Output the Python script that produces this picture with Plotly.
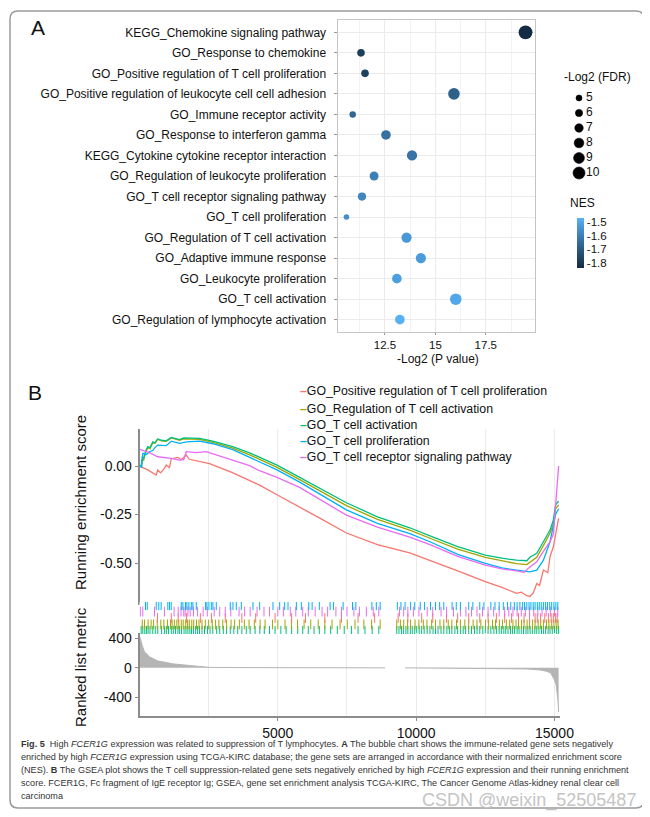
import plotly.graph_objects as go

# screen size of the reference and the browser's default page margin
W, H = 650, 817
OFF = 8
FW, FH = W - OFF, H - OFF

# ---------------- Panel A data ----------------
pathways = [
    "KEGG_Chemokine signaling pathway",
    "GO_Response to chemokine",
    "GO_Positive regulation of T cell proliferation",
    "GO_Positive regulation of leukocyte cell cell adhesion",
    "GO_Immune receptor activity",
    "GO_Response to interferon gamma",
    "KEGG_Cytokine cytokine receptor interaction",
    "GO_Regulation of leukocyte proliferation",
    "GO_T cell receptor signaling pathway",
    "GO_T cell proliferation",
    "GO_Regulation of T cell activation",
    "GO_Adaptive immune response",
    "GO_Leukocyte proliferation",
    "GO_T cell activation",
    "GO_Regulation of lymphocyte activation",
]
neg_log2_p = [19.47, 11.31, 11.51, 15.92, 10.90, 12.55, 13.84, 11.96, 11.36, 10.59,
              13.57, 14.28, 13.09, 16.01, 13.24]
neg_log2_fdr = [11.5, 6.3, 6.3, 9.6, 5.4, 8.0, 8.5, 7.4, 6.8, 4.6, 8.5, 8.5, 8.0, 9.6, 8.0]
nes = [-1.837, -1.782, -1.771, -1.683, -1.665, -1.636, -1.628, -1.599, -1.581, -1.562,
       -1.537, -1.526, -1.515, -1.496, -1.471]
fdr_legend = [5, 6, 7, 8, 9, 10]
nes_ticks = [-1.5, -1.6, -1.7, -1.8]
p_ticks = [12.5, 15, 17.5]

# ---------------- Panel B data ----------------
gene_sets = [
    "GO_Positive regulation of T cell proliferation",
    "GO_Regulation of T cell activation",
    "GO_T cell activation",
    "GO_T cell proliferation",
    "GO_T cell receptor signaling pathway",
]
set_colors = ["#F8766D", "#A3A500", "#00BF7D", "#00B0F6", "#E76BF3"]

red_rank = [0, 300, 600, 660, 760, 900, 965, 1080, 1150, 1390, 1510, 1690, 1800, 2050, 2530,
            3380, 4340, 4970, 5790, 6600, 7480, 8600, 9770, 10500, 11500, 12500, 13100, 13630,
            13800, 14000, 14110, 14230, 14360, 14460, 14600, 14760, 14840, 14960, 15040, 15100, 15150]
red_es = [0.0, -0.02, -0.046, -0.02, -0.035, -0.012, 0.005, -0.008, 0.038, 0.045, 0.033, 0.057,
          0.035, 0.028, 0.012, -0.035, -0.098, -0.148, -0.21, -0.275, -0.345, -0.405, -0.447,
          -0.485, -0.54, -0.596, -0.625, -0.656, -0.65, -0.668, -0.672, -0.655, -0.605, -0.615,
          -0.536, -0.55, -0.467, -0.416, -0.345, -0.3, -0.27]

olive_rank = [0, 60, 100, 150, 220, 300, 380, 480, 560, 660, 800, 965, 1150, 1300, 1450, 1600,
              1810, 2170, 2650, 3370, 3980, 4340, 4970, 5790, 6600, 7480, 8600, 9770, 10500,
              11500, 12500, 13100, 13630, 14000, 14110, 14360, 14600, 14840, 14960, 15040, 15150]
olive_es = [0.0, 0.0, 0.03, 0.03, 0.07, 0.095, 0.09, 0.12, 0.118, 0.138, 0.13, 0.128, 0.145,
            0.138, 0.133, 0.14, 0.14, 0.138, 0.122, 0.092, 0.058, 0.033, -0.007, -0.07, -0.135,
            -0.204, -0.275, -0.33, -0.372, -0.428, -0.471, -0.49, -0.503, -0.508, -0.495, -0.47,
            -0.41, -0.345, -0.3, -0.22, -0.2]

green_rank = [0, 60, 100, 150, 220, 300, 380, 480, 560, 660, 800, 965, 1150, 1300, 1450, 1600,
              1810, 2170, 2650, 3370, 3980, 4340, 4970, 5790, 6600, 7480, 8600, 9770, 10500,
              11500, 12500, 13100, 13630, 14000, 14110, 14360, 14600, 14840, 14960, 15040, 15150]
green_es = [0.0, 0.0, 0.045, 0.04, 0.075, 0.10, 0.095, 0.125, 0.12, 0.14, 0.133, 0.13, 0.148,
            0.14, 0.136, 0.145, 0.145, 0.143, 0.128, 0.10, 0.068, 0.045, 0.005, -0.058, -0.12,
            -0.189, -0.262, -0.318, -0.36, -0.415, -0.459, -0.475, -0.485, -0.488, -0.47, -0.45,
            -0.39, -0.33, -0.278, -0.2, -0.18]

blue_rank = [0, 80, 120, 250, 360, 480, 560, 660, 965, 1150, 1450, 1700, 2170, 2650, 3370,
             3980, 4340, 4970, 5790, 6600, 7480, 8600, 9770, 10500, 11500, 12500, 13100, 13630,
             14000, 14110, 14360, 14600, 14840, 14960, 15040, 15150]
blue_es = [0.0, -0.005, 0.065, 0.06, 0.074, 0.08, 0.095, 0.108, 0.105, 0.128, 0.117, 0.125,
           0.128, 0.115, 0.085, 0.045, 0.02, -0.02, -0.083, -0.15, -0.226, -0.295, -0.348, -0.39,
           -0.455, -0.502, -0.525, -0.536, -0.545, -0.545, -0.536, -0.485, -0.39, -0.313, -0.25,
           -0.22]

magenta_rank = [0, 360, 660, 965, 1150, 1450, 1600, 1690, 2050, 2410, 2770, 3380, 3980, 4340,
                4970, 5790, 6600, 7480, 8600, 9770, 10500, 11500, 12500, 13100, 13630, 13900,
                14110, 14360, 14600, 14840, 14960, 15040, 15100, 15150]
magenta_es = [0.086, 0.069, 0.048, 0.045, 0.04, 0.031, 0.033, 0.074, 0.069, 0.074, 0.057, 0.03,
              0.002, -0.024, -0.058, -0.11, -0.18, -0.253, -0.315, -0.366, -0.405, -0.465, -0.51,
              -0.53, -0.54, -0.548, -0.52, -0.493, -0.44, -0.39, -0.35, -0.2, -0.05, 0.0]

# gene positions (hits) in the ranked list for each set
red_hits = [650, 1150, 1400, 1700, 2200, 2600, 3100, 3700, 4200, 4900, 5500, 6000, 6700, 7300,
            7900, 8500, 9350, 9700, 10200, 10600, 11100, 11500, 11900, 12300, 12600, 12900,
            13200, 13450, 13700, 13900, 14100, 14300, 14380, 14500, 14650, 14780, 14880, 14960,
            15040, 15100]
olive_hits = [100, 180, 310, 420, 510, 640, 770, 880, 1010, 1120, 1180, 1260, 1350, 1420, 1510,
              1580, 1670, 1740, 1800, 1890, 1960, 2060, 2150, 2260, 2380, 2500, 2630, 2750, 2870,
              3010, 3150, 3310, 3440, 3610, 3790, 3960, 4150, 4360, 4540, 4810, 5000, 5260, 5490,
              5710, 5950, 6190, 6460, 6700, 6960, 7250, 7510, 7790, 8110, 8390, 8700, 9300, 9430,
              9550, 9690, 9800, 9960, 10100, 10260, 10390, 10560, 10700, 10860, 11000, 11160,
              11290, 11460, 11600, 11760, 11900, 12060, 12200, 12340, 12510, 12620, 12760, 12870,
              13010, 13120, 13260, 13380, 13500, 13610, 13700, 13810, 13900, 14010, 14100, 14210,
              14300, 14410, 14500, 14600, 14710, 14800, 14900, 14980, 15060, 15130]
green_hits = [60, 120, 190, 250, 310, 380, 480, 570, 660, 800, 900, 970, 1050, 1150, 1220, 1300,
              1390, 1450, 1520, 1610, 1680, 1750, 1820, 1880, 1950, 2030, 2100, 2170, 2260, 2350,
              2460, 2550, 2650, 2790, 2900, 3030, 3150, 3280, 3410, 3550, 3700, 3860, 4000, 4180,
              4350, 4510, 4700, 4900, 5110, 5300, 5500, 5720, 5900, 6100, 6310, 6500, 6700, 6910,
              7150, 7400, 7660, 7900, 8150, 8410, 8650, 9300, 9380, 9470, 9540, 9630, 9700, 9790,
              9860, 9950, 10020, 10110, 10200, 10290, 10400, 10500, 10610, 10700, 10790, 10900,
              11000, 11110, 11200, 11290, 11400, 11500, 11610, 11700, 11790, 11900, 12000, 12110,
              12200, 12300, 12410, 12500, 12600, 12700, 12810, 12900, 13000, 13080, 13170, 13240,
              13320, 13410, 13480, 13560, 13650, 13720, 13800, 13880, 13970, 14040, 14120, 14200,
              14290, 14360, 14440, 14530, 14600, 14680, 14770, 14840, 14920, 15000, 15080, 15150]
blue_hits = [217, 279, 604, 698, 782, 1024, 1086, 1147, 1509, 1568, 1665, 1713, 1785, 1872, 1930,
             2052, 2389, 2437, 2509, 2596, 2654, 2775, 3282, 3379, 3499, 3680, 4101, 4343, 4825,
             5067, 5248, 5368, 5670, 5850, 6120, 6240, 6500, 6890, 7010, 7360, 7700, 7820, 8400,
             8560, 8700, 9320, 9450, 9600, 9800, 9950, 10150, 10300, 10520, 10700, 10850, 11000,
             11300, 11450, 11600, 11900, 12050, 12300, 12450, 12700, 12850, 13000, 13150, 13300,
             13420, 13550, 13650, 13750, 13850, 13920, 14000, 14080, 14150, 14230, 14300, 14380,
             14450, 14520, 14600, 14680, 14750, 14830, 14900, 14980, 15050, 15120]
magenta_hits = [30, 120, 540, 900, 1250, 1400, 1500, 1600, 1650, 1750, 1830, 1950, 2100, 2300,
                2450, 2700, 2900, 3100, 3300, 3600, 3800, 4000, 4250, 4500, 4700, 5000, 5200,
                5450, 5650, 5900, 6100, 6350, 6600, 6800, 7100, 7300, 7500, 7750, 7950, 8200,
                8450, 8650, 9400, 9550, 9700, 9900, 10100, 10400, 10600, 10900, 11100, 11350,
                11600, 11800, 12000, 12200, 12400, 12600, 12800, 13000, 13200, 13350, 13500,
                13650, 13800, 13950, 14100, 14250, 14400, 14550, 14700, 14850, 15000, 15120]

metric_rank = [0, 20, 50, 100, 180, 360, 650, 1200, 2170, 2540, 4000, 6000, 8880, None, 9600,
               12000, 13500, 14000, 14500, 14700, 14860, 15000, 15060, 15100, 15130, 15150]
metric_val = [430, 410, 370, 300, 217, 150, 95, 54, 14, 6, 3, 1, 0, None, 0, -3, -10, -15, -30,
              -45, -68, -163, -230, -340, -450, -597]
es_ticks = [0.0, -0.25, -0.5]
metric_ticks = [400, 0, -400]
rank_ticks = [5000, 10000, 15000]

# ---------------- helpers (screen pixel -> paper) ----------------
def fx(p):
    return (p - OFF) / FW

def fy(p):
    return 1 - (p - OFF) / FH

def xdom(l, r):
    return [fx(l), fx(r)]

def ydom(t, b):
    return [fy(b), fy(t)]

FONT = "Liberation Sans, Arial, sans-serif"
TXT = "#111111"
GRID = "#EBEBEB"
AXC = "#8C8C8C"

colorscale = [[0.0, "#132B43"], [0.25, "#234A6D"], [0.5, "#336A98"],
              [0.75, "#448DC6"], [1.0, "#56B1F7"]]
SIZEREF = 0.83

fig = go.Figure()

# bubble chart
fig.add_trace(go.Scatter(
    x=neg_log2_p, y=pathways, mode="markers", xaxis="x", yaxis="y",
    marker=dict(size=neg_log2_fdr, sizemode="diameter", sizeref=SIZEREF,
                color=nes, colorscale=colorscale, cmin=min(nes), cmax=max(nes),
                line=dict(width=0), opacity=1,
                showscale=True,
                colorbar=dict(x=fx(577), xanchor="left", y=fy(218), yanchor="top",
                              lenmode="pixels", len=50, thickness=7, xpad=0, ypad=0,
                              outlinewidth=0, tickvals=nes_ticks,
                              ticktext=["%.1f" % v for v in nes_ticks], ticks="",
                              tickfont=dict(size=11.5, color=TXT, family=FONT))),
    showlegend=False, hoverinfo="skip"))

# size legend
fig.add_trace(go.Scatter(
    x=[9] * len(fdr_legend), y=fdr_legend, mode="markers", xaxis="x5", yaxis="y5",
    marker=dict(size=fdr_legend, sizemode="diameter", sizeref=SIZEREF, color="#000000",
                opacity=1, line=dict(width=0.6, color="#000000")),
    showlegend=False, hoverinfo="skip"))
fig.add_trace(go.Scatter(
    x=[16] * len(fdr_legend), y=fdr_legend, mode="text", xaxis="x5", yaxis="y5",
    text=[str(v) for v in fdr_legend], textposition="middle right",
    textfont=dict(size=12, color=TXT, family=FONT),
    showlegend=False, hoverinfo="skip"))

# running enrichment score curves
curves = [(red_rank, red_es), (olive_rank, olive_es), (green_rank, green_es),
          (blue_rank, blue_es), (magenta_rank, magenta_es)]
for (rx, ry), col in zip(curves, set_colors):
    fig.add_trace(go.Scatter(x=rx, y=ry, mode="lines", xaxis="x2", yaxis="y2",
                             line=dict(color=col, width=1.3), showlegend=False,
                             hoverinfo="skip"))

# rug of hits: rows from bottom: green, olive, red, magenta, blue
rug = [(green_hits, set_colors[2], 0.5), (olive_hits, set_colors[1], 1.5),
       (red_hits, set_colors[0], 2.5), (magenta_hits, set_colors[4], 3.5),
       (blue_hits, set_colors[3], 4.5)]
for hits, col, row in rug:
    fig.add_trace(go.Scatter(x=hits, y=[row] * len(hits), mode="markers",
                             xaxis="x3", yaxis="y3",
                             marker=dict(symbol="line-ns", size=7,
                                         line=dict(color=col, width=1)),
                             showlegend=False, hoverinfo="skip"))

# ranked list metric
fig.add_trace(go.Scatter(x=metric_rank, y=metric_val, mode="lines", xaxis="x4", yaxis="y4",
                         fill="tozeroy", fillcolor="#B5B5B5",
                         line=dict(color="#B5B5B5", width=1), connectgaps=False,
                         showlegend=False, hoverinfo="skip"))

# ---------------- axes ----------------
AX = dict(automargin=False, zeroline=False)
rank_range = [0, 15200]
p_lo, p_hi = min(neg_log2_p), max(neg_log2_p)
p_pad = 0.05 * (p_hi - p_lo)

fig.update_layout(
    width=FW, height=FH, margin=dict(l=0, r=0, t=0, b=0),
    paper_bgcolor="white", plot_bgcolor="white", template="none",
    font=dict(family=FONT, color=TXT),
    xaxis=dict(AX, domain=xdom(337.5, 534.5), range=[p_lo - p_pad, p_hi + p_pad],
               tickvals=p_ticks, ticktext=["12.5", "15", "17.5"],
               tickfont=dict(size=11.5, color=TXT), ticks="outside", ticklen=2,
               tickcolor="#999999", showgrid=True, gridcolor=GRID, gridwidth=1,
               minor=dict(tickvals=[11.25, 13.75, 16.25, 18.75], showgrid=True,
                          gridcolor="#F3F3F3", gridwidth=0.8),
               showline=True, mirror=True, linecolor="#C4C4C4", linewidth=1,
               anchor="y"),
    yaxis=dict(AX, domain=ydom(20, 332), type="category",
               categoryorder="array", categoryarray=pathways,
               range=[len(pathways) - 0.4, -0.6],
               tickfont=dict(size=12, color=TXT), ticks="outside", ticklen=3,
               tickcolor="#999999", ticklabelstandoff=5,
               showgrid=True, gridcolor=GRID, gridwidth=1,
               showline=True, mirror=True, linecolor="#C4C4C4", linewidth=1,
               anchor="x"),
    xaxis5=dict(AX, domain=xdom(570, 610), range=[0, 40], visible=False, anchor="y5"),
    yaxis5=dict(AX, domain=ydom(90.5, 180.5), range=[10.5, 4.5], visible=False,
                anchor="x5"),
    xaxis2=dict(AX, domain=xdom(139.5, 560), range=rank_range, tickvals=rank_ticks,
                showticklabels=False, ticks="", showgrid=True, gridcolor=GRID,
                minor=dict(dtick=2500, tick0=0, showgrid=True, gridcolor=GRID),
                showline=False, anchor="y2"),
    yaxis2=dict(AX, domain=ydom(429, 605), range=[-0.716, 0.191], tickvals=es_ticks,
                ticktext=["0.00", "-0.25", "-0.50"], tickfont=dict(size=14, color=TXT),
                ticks="outside", ticklen=3, tickcolor=AXC, showgrid=False,
                showline=True, linecolor=AXC, linewidth=1.6, anchor="x2"),
    xaxis3=dict(AX, domain=xdom(139.5, 560), range=rank_range, visible=False, anchor="y3"),
    yaxis3=dict(AX, domain=ydom(602, 634), range=[0, 5], visible=False, anchor="x3"),
    xaxis4=dict(AX, domain=xdom(139.5, 560), range=rank_range, tickvals=rank_ticks,
                ticktext=["5000", "10000", "15000"], tickfont=dict(size=14, color=TXT),
                ticks="outside", ticklen=3, tickcolor=AXC, showgrid=True, gridcolor=GRID,
                minor=dict(dtick=2500, tick0=0, showgrid=True, gridcolor=GRID),
                showline=True, linecolor=AXC, linewidth=1.6, anchor="y4"),
    yaxis4=dict(AX, domain=ydom(633, 716), range=[-651, 471], tickvals=metric_ticks,
                ticktext=["400", "0", "-400"], tickfont=dict(size=14, color=TXT),
                ticks="outside", ticklen=3, tickcolor=AXC, showgrid=False,
                showline=True, linecolor=AXC, linewidth=1.6, anchor="x4"),
)

# ---------------- annotations ----------------
ann = []

def add_text(text, x, y, size, xanchor="center", yanchor="middle", color=TXT, angle=0,
             family=FONT):
    ann.append(dict(text=text, x=fx(x), y=fy(y), xref="paper", yref="paper",
                    xanchor=xanchor, yanchor=yanchor, showarrow=False, textangle=angle,
                    font=dict(size=size, color=color, family=family)))

add_text("A", 38, 28, 21)
add_text("B", 35, 392, 21)
add_text("-Log2 (FDR)", 597, 77, 12)
add_text("NES", 582, 203, 12)
add_text("-Log2 (P value)", 438, 359, 12)
add_text("Running enrichment score", 80, 503, 15, angle=-90)
add_text("Ranked list metric", 80, 667, 15, angle=-90)

legend_y = [391, 409, 425, 441, 457]
for name, col, ly in zip(gene_sets, set_colors, legend_y):
    add_text('<span style="color:%s"><b>–</b></span>%s' % (col, name), 298, ly, 12.3,
             xanchor="left")

caption = [
    "<b>Fig. 5</b>  High <i>FCER1G</i> expression was related to suppression of T lymphocytes. "
    "<b>A</b> The bubble chart shows the immune-related gene sets negatively",
    "enriched by high <i>FCER1G</i> expression using TCGA-KIRC database; the gene sets are "
    "arranged in accordance with their normalized enrichment score",
    "(NES). <b>B</b> The GSEA plot shows the T cell suppression-related gene sets negatively "
    "enriched by high <i>FCER1G</i> expression and their running enrichment",
    "score. FCER1G, Fc fragment of IgE receptor Ig; GSEA, gene set enrichment analysis "
    "TCGA-KIRC, The Cancer Genome Atlas-kidney renal clear cell",
    "carcinoma",
]
for i, line in enumerate(caption):
    add_text(line, 19, 744 + 13 * i, 9.1, xanchor="left", color="#333333")

add_text("CSDN @weixin_52505487", 638, 800, 18, xanchor="right", color="#C4C4C4")

fig.update_layout(annotations=ann)

# rounded outer frame
x0, x1, y0, y1, r = 10, 644, 11, 808, 8
pts = lambda x, y: "%.5f,%.5f" % (fx(x), fy(y))
path = ("M" + pts(x0 + r, y0) + " L" + pts(x1 - r, y0) + " Q" + pts(x1, y0) + " " + pts(x1, y0 + r)
        + " L" + pts(x1, y1 - r) + " Q" + pts(x1, y1) + " " + pts(x1 - r, y1)
        + " L" + pts(x0 + r, y1) + " Q" + pts(x0, y1) + " " + pts(x0, y1 - r)
        + " L" + pts(x0, y0 + r) + " Q" + pts(x0, y0) + " " + pts(x0 + r, y0) + " Z")
fig.update_layout(shapes=[dict(type="path", path=path, xref="paper", yref="paper",
                               line=dict(color="#9A9A9A", width=1.5), layer="above")])

fig.write_html("out.html")
